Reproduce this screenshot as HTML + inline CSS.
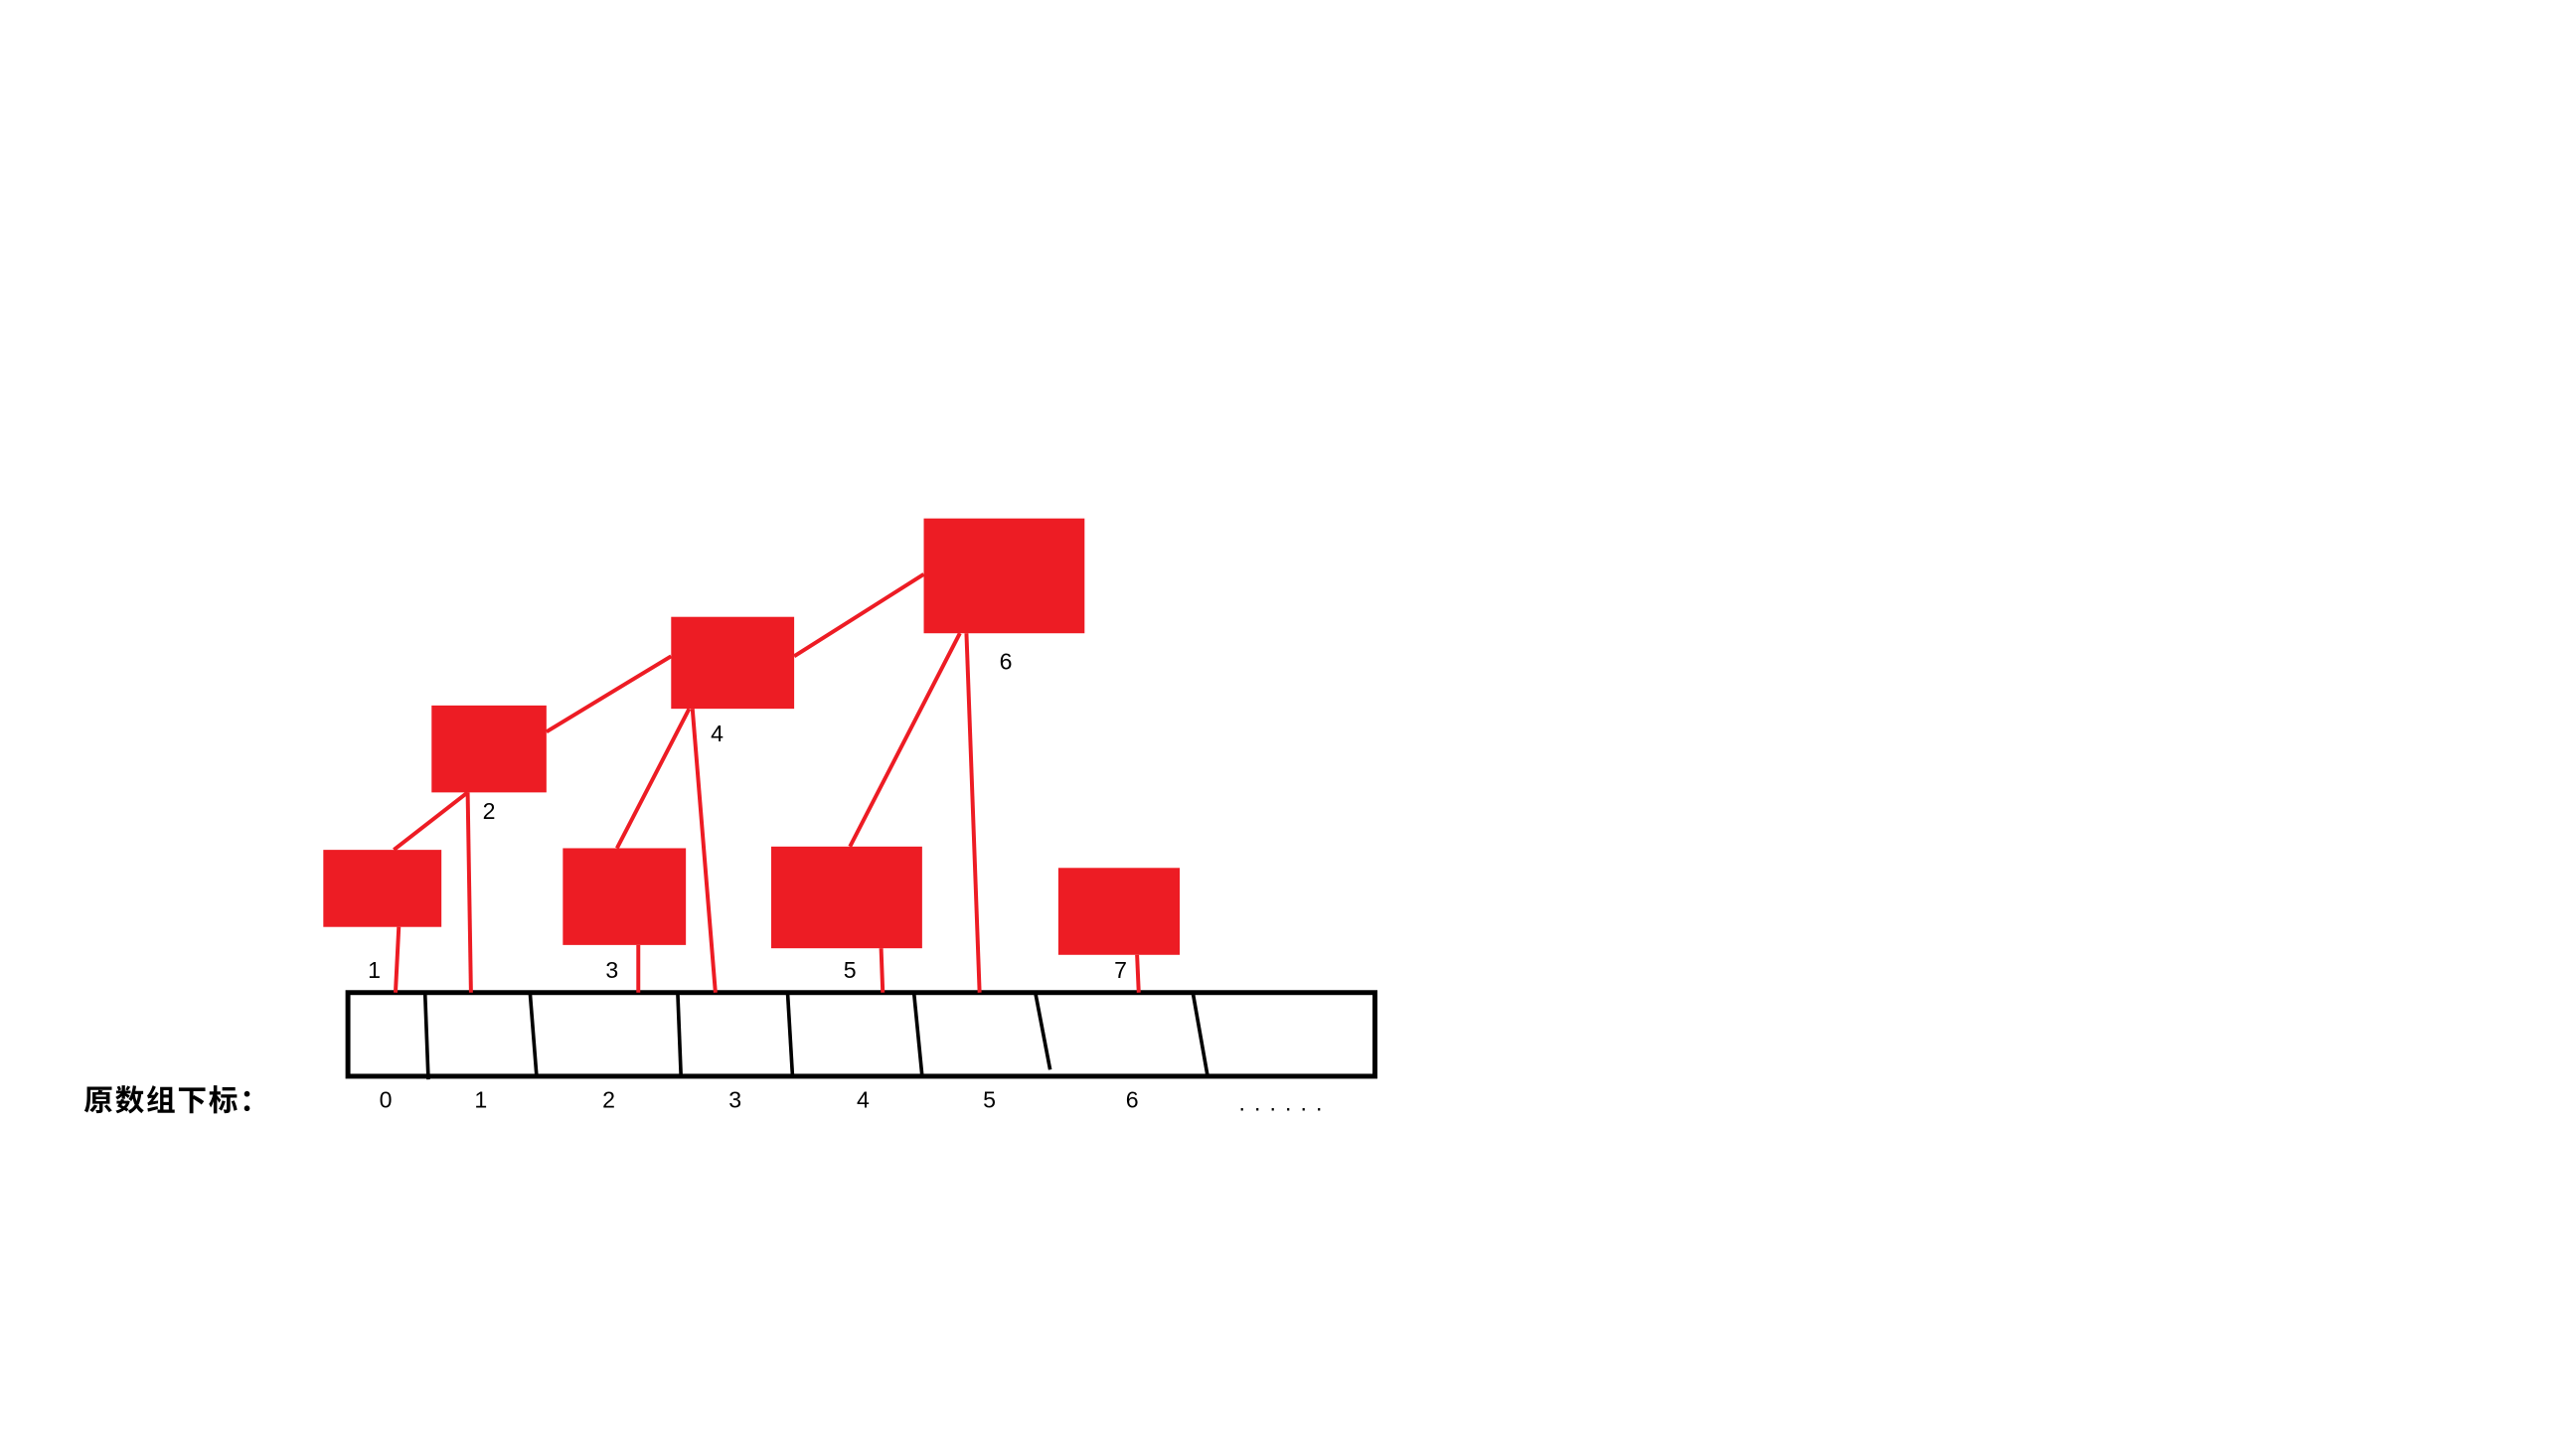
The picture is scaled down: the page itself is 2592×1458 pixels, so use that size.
<!DOCTYPE html>
<html><head><meta charset="utf-8"><style>
html,body{margin:0;padding:0;background:#fff;}
svg{display:block;}
text{font-family:"Liberation Sans","Noto Sans CJK SC",sans-serif;}
</style></head>
<body>
<svg id="c" width="2592" height="1458" viewBox="0 0 1570 883.2" xmlns="http://www.w3.org/2000/svg">
<rect x="0" y="0" width="1570" height="884" fill="#fff"/>
</svg>
<script>
const NS="http://www.w3.org/2000/svg";
const svg=document.getElementById('c');
// tree node boxes: label, x0, y0, x1, y1
const nodeLabels=["1","2","3","4","5","6","7"];
const nodeBoxes=[[197,518,269,565],[263,430,333,483],[343,517,418,576],[409,376,484,432],[470,516,562,578],[563,316,661,386],[645,529,719,582]];
const nodeLabelPos=[[228,591],[298,494],[373,591],[437,447],[518,591],[613,403],[683,591]];
// red connector segments
const redLinks=[[243,565,241,605],[285,483,240,518],[285,483,287,605],[333,446,409,400],[420,432,376,517],[422,432,436,605],[484,400,563,350],[585,386,518,516],[589,386,597,605],[389,576,389,605],[537,578,538,605],[693,582,694,605]];
// black dividers in array
const dividers=[[259,605,261,658],[323,605,327,656],[413,605,415,656],[480,605,483,656],[557,605,562,656],[631,605,640,652],[727,605,736,656]];
const indexLabels=["0","1","2","3","4","5","6"];
const indexX=[235,293,371,448,526,603,690];

function mk(tag,attrs){const e=document.createElementNS(NS,tag);for(const k in attrs)e.setAttribute(k,attrs[k]);svg.appendChild(e);return e;}

const arr=mk('rect',{x:212,y:605,width:626,height:51,fill:'none',stroke:'#000','stroke-width':3});



dividers.forEach((d,i)=>{
  const l=mk('line',{x1:d[0],y1:d[1],x2:d[2],y2:d[3],stroke:'#000','stroke-width':2.2});
  
  
});
redLinks.forEach(d=>{
  const l=mk('line',{x1:d[0],y1:d[1],x2:d[2],y2:d[3],stroke:'#ed1c24','stroke-width':2.4});
  
  
});
nodeBoxes.forEach((b,i)=>{
  const r=mk('rect',{x:b[0],y:b[1],width:b[2]-b[0],height:b[3]-b[1],fill:'#ed1c24'});
  
  
  const t=mk('text',{x:nodeLabelPos[i][0],y:nodeLabelPos[i][1]+5,'font-size':14,'text-anchor':'middle',fill:'#000'});
  t.textContent=nodeLabels[i];
  
  
});
indexLabels.forEach((s,i)=>{
  const t=mk('text',{x:indexX[i],y:675,'font-size':14,'text-anchor':'middle',fill:'#000'});
  t.textContent=s;
  
  
});
const dots=mk('text',{x:755,y:677,'font-size':14,fill:'#000','letter-spacing':'5.5'});
dots.textContent='......';


const cap=mk('text',{x:51,y:677,'font-size':18,'font-weight':'bold',fill:'#000','letter-spacing':'1'});
cap.textContent='原数组下标：';


</script>
</body></html>
